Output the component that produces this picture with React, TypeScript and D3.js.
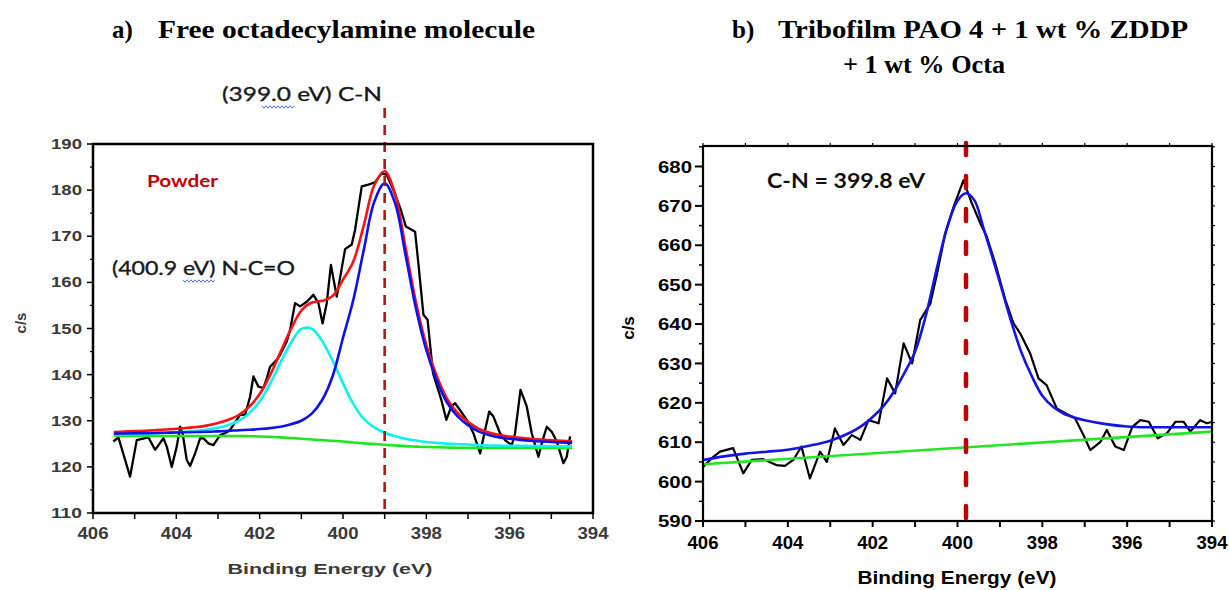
import React from 'react';
import * as d3 from 'd3';

// ---------- Panel a) data ----------
const leftRawEnergy = [405.51,405.39,405.11,404.95,404.67,404.51,404.31,404.23,404.11,403.99,403.91,403.85,403.75,403.67,403.55,403.43,403.35,403.23,403.11,402.95,402.83,402.71,402.55,402.47,402.35,402.23,402.15,402.03,401.91,401.83,401.75,401.59,401.51,401.35,401.27,401.15,401.03,400.87,400.71,400.59,400.49,400.39,400.29,400.15,399.95,399.79,399.71,399.55,399.39,399.23,399.07,398.95,398.79,398.61,398.49,398.27,398.19,398.07,397.97,397.84,397.64,397.52,397.4,397.31,397.19,397.03,396.87,396.71,396.59,396.49,396.39,396.23,396.11,395.95,395.87,395.74,395.59,395.47,395.31,395.23,395.11,394.99,394.87,394.71,394.63,394.55];
const leftRawCounts = [125.5,126.4,117.9,125.8,126.4,123.7,126.2,124.4,120.0,124.4,128.7,127.3,121.5,120.2,122.9,126.2,126.2,125.1,124.7,126.9,127.3,128.0,130.2,131.3,131.3,135.2,139.6,137.4,137.1,139.2,141.7,143.2,144.3,147.2,149.7,155.5,154.8,155.8,157.3,155.5,151.1,155.5,163.8,156.9,167.2,168.2,171.4,180.8,181.2,181.7,183.7,183.3,180.0,175.7,172.1,171.0,164.0,153.0,151.9,140.3,134.5,130.2,133.1,133.8,132.3,130.2,127.3,122.9,128.0,132.0,130.9,127.3,125.8,124.7,127.3,136.7,133.1,127.3,122.2,125.1,128.7,127.6,125.5,120.8,122.2,126.6];

const leftFitEnergy = [405.5,405.25,405.0,404.75,404.5,404.25,404.0,403.75,403.5,403.25,403.0,402.75,402.5,402.25,402.0,401.75,401.5,401.25,401.0,400.75,400.5,400.25,400.0,399.75,399.5,399.25,399.0,398.75,398.5,398.25,398.0,397.75,397.5,397.25,397.0,396.75,396.5,396.25,396.0,395.75,395.5,395.25,395.0,394.75,394.5];
const leftBackground = [126.7,126.7,126.7,126.7,126.7,126.7,126.7,126.7,126.7,126.7,126.7,126.7,126.7,126.65,126.6,126.5,126.4,126.25,126.1,125.95,125.8,125.65,125.5,125.3,125.1,124.95,124.8,124.65,124.5,124.4,124.3,124.25,124.2,124.15,124.15,124.1,124.1,124.1,124.1,124.1,124.1,124.1,124.1,124.1,124.1];
const leftNCO = [127.05,127.1,127.15,127.2,127.3,127.4,127.5,127.65,127.8,128.1,128.5,129.1,130.0,131.65,134.2,138.0,142.6,146.85,149.9,149.95,147.3,143.05,138.1,133.6,130.4,128.55,127.4,126.65,126.1,125.7,125.4,125.2,125.05,124.9,124.85,124.7,124.65,124.6,124.58,124.55,124.52,124.5,124.48,124.46,124.44];
const leftCN = [127.2,127.25,127.3,127.32,127.35,127.4,127.45,127.5,127.55,127.6,127.7,127.8,127.95,128.05,128.2,128.4,128.7,129.25,130.0,131.55,134.5,139.65,148.0,156.3,167.1,177.45,181.5,177.15,166.0,154.4,145.3,138.75,133.9,130.95,129.05,127.7,126.9,126.4,126.1,125.85,125.65,125.5,125.4,125.3,125.2];
const leftEnvelope = [127.55,127.65,127.75,127.82,127.95,128.1,128.25,128.45,128.65,129.0,129.5,130.2,131.25,133.05,135.8,139.9,144.9,149.85,153.9,155.65,156.0,157.05,160.6,164.6,172.4,181.05,184.1,179.15,167.6,155.7,146.4,139.7,134.75,131.7,129.75,128.3,127.45,126.9,126.58,126.3,126.07,125.9,125.78,125.66,125.54];
const leftPeak = 399.0;
const leftXTicks = [406,405,404,403,402,401,400,399,398,397,396,395,394];
const leftXLabels = [406,404,402,400,398,396,394];
const leftYMajor = [110,120,130,140,150,160,170,180,190];
const leftYMinor = [115,125,135,145,155,165,175,185];

// ---------- Panel b) data ----------
const rightRawEnergy = [405.99,405.8,405.6,405.29,405.05,404.85,404.58,404.27,404.07,403.87,403.68,403.48,403.24,403.08,402.89,402.69,402.49,402.29,402.1,401.86,401.66,401.47,401.27,401.07,400.88,400.64,400.48,400.29,400.09,399.86,399.66,399.46,399.31,399.11,398.87,398.68,398.52,398.29,398.09,397.9,397.66,397.38,397.23,397.03,396.87,396.63,396.48,396.28,396.08,395.88,395.69,395.49,395.28,395.06,394.86,394.67,394.51,394.28,394.12,393.99];
const rightRawCounts = [603.8,605.9,607.6,608.5,602.1,605.5,605.7,604.2,604.0,605.5,608.9,600.8,607.6,605.0,613.5,609.3,611.8,610.6,615.6,614.8,626.2,622.4,635.1,630.0,641.0,645.2,652.9,663.0,669.8,676.5,670.6,665.5,662.2,655.4,646.1,640.2,637.6,632.6,626.2,624.5,618.6,616.9,616.1,611.8,608.0,610.1,613.1,608.9,608.0,613.9,615.6,615.2,611.0,612.3,615.2,615.2,612.7,615.6,614.8,615.2];
const rightFitEnergy = [406.0,405.5,405.0,404.5,404.0,403.5,403.0,402.5,402.25,402.0,401.75,401.5,401.25,401.0,400.75,400.5,400.25,400.0,399.8,399.6,399.4,399.2,399.0,398.75,398.5,398.25,398.0,397.75,397.5,397.25,397.0,396.5,396.0,395.5,395.0,394.5,394.0];
const rightFit = [605.5,606.4,607.1,607.6,608.1,609.1,610.4,612.6,614.2,616.4,619.1,622.8,627.6,633.0,642.0,653.6,664.3,671.3,673.2,671.4,664.8,657.8,650.5,641.2,633.0,626.8,621.8,619.0,617.3,616.3,615.6,614.6,614.0,613.8,613.8,613.8,613.8];
const rightBackgroundEnergy = [406.0, 394.0];
const rightBackground = [604.4, 612.7];
const rightPeak = 399.8;
const rightXTicks = [406,405,404,403,402,401,400,399,398,397,396,395,394];
const rightXLabels = [406,404,402,400,398,396,394];
const rightYMajor = [590,600,610,620,630,640,650,660,670,680];
const rightYMinor = [595,605,615,625,635,645,655,665,675,685];
const rightYSide = [590,595,600,605,610,615,620,625,630,635,640,645,650,655,660,665,670,675,680,685];

// ---------- Layout ----------
const L = { x0: 93, x1: 593, y0: 144, y1: 513 };
const R = { x0: 703, x1: 1212, y0: 146, y1: 521 };
const xL = d3.scaleLinear().domain([406, 394]).range([L.x0, L.x1]);
const yL = d3.scaleLinear().domain([110, 190]).range([L.y1, L.y0]);
const xR = d3.scaleLinear().domain([406, 394]).range([R.x0, R.x1]);
const yR = d3.scaleLinear().domain([590, 685.2]).range([R.y1, R.y0]);

const SANS = 'Liberation Sans, Arial, sans-serif';
const SERIF = 'Liberation Serif, Times New Roman, serif';
const CAL = 'Lato, Carlito, Calibri, sans-serif';
const SMOOTH = d3.curveCatmullRom.alpha(0.5);

function path(xs: number[], ys: number[], xs_: any, ys_: any, curve: any) {
  return d3.line<number>().x((_, i) => xs_(xs[i])).y((d) => ys_(d)).curve(curve)(ys) || '';
}

function Wavy({ x0, x1, y }: { x0: number; x1: number; y: number }) {
  const n = Math.round((x1 - x0) / 2);
  const pts: [number, number][] = d3.range(n + 1).map((i) => [x0 + (i * (x1 - x0)) / n, y + (i % 2 ? 1.2 : -1.2)]);
  return <path d={d3.line()(pts) || ''} fill="none" stroke="#4a6cf0" strokeWidth={1} />;
}

export default function App() {
  const grey = '#3a3a3a';
  return (
    <svg width={1229} height={590} style={{ position: 'absolute', left: 0, top: 0, background: '#fff' }}>
      <rect x={0} y={0} width={1229} height={590} fill="#fff" />
      {/* Titles */}
      <text x={112} y={38} fontFamily={SERIF} fontWeight="bold" fontSize={25}>a)</text>
      <text x={158} y={38} fontFamily={SERIF} fontWeight="bold" fontSize={25} textLength={377} lengthAdjust="spacingAndGlyphs">Free octadecylamine molecule</text>
      <text x={732} y={38} fontFamily={SERIF} fontWeight="bold" fontSize={25}>b)</text>
      <text x={778} y={38} fontFamily={SERIF} fontWeight="bold" fontSize={25} textLength={410} lengthAdjust="spacingAndGlyphs">Tribofilm PAO 4 + 1 wt % ZDDP</text>
      <text x={843} y={73} fontFamily={SERIF} fontWeight="bold" fontSize={25} textLength={162} lengthAdjust="spacingAndGlyphs">+ 1 wt % Octa</text>

      {/* ===== Panel a ===== */}
      <text x={222} y={101} fontFamily={CAL} fontSize={19} fill="#1a1a1a" stroke="#1a1a1a" strokeWidth={0.35} textLength={160} lengthAdjust="spacingAndGlyphs">(399.0 eV) C-N</text>
      <Wavy x0={262} x1={294} y={107} />
      {leftYMajor.map((v) => (
        <g key={'lym' + v}>
          <line x1={L.x0 - 6} x2={L.x0} y1={yL(v)} y2={yL(v)} stroke="#000" strokeWidth={1.5} />
          <text x={82} y={yL(v)} dy="0.36em" textAnchor="end" fontFamily={SANS} fontWeight="bold" fontSize={14} fill={grey} textLength={31} lengthAdjust="spacingAndGlyphs">{v}</text>
        </g>
      ))}
      {leftYMinor.map((v) => (
        <line key={'lyn' + v} x1={L.x0 - 3} x2={L.x0} y1={yL(v)} y2={yL(v)} stroke="#000" strokeWidth={1.2} />
      ))}
      {leftXTicks.map((v) => (
        <line key={'lx' + v} x1={xL(v)} x2={xL(v)} y1={L.y1} y2={L.y1 + 6} stroke="#000" strokeWidth={1.5} />
      ))}
      {leftXLabels.map((v) => (
        <text key={'lxl' + v} x={xL(v)} y={539} textAnchor="middle" fontFamily={SANS} fontWeight="bold" fontSize={17} fill={grey} textLength={31} lengthAdjust="spacingAndGlyphs">{v}</text>
      ))}
      <text x={330} y={574} textAnchor="middle" fontFamily={SANS} fontWeight="bold" fontSize={14} fill={grey} textLength={205} lengthAdjust="spacingAndGlyphs">Binding Energy (eV)</text>
      <text transform="translate(26,323) rotate(-90)" textAnchor="middle" fontFamily={SANS} fontWeight="bold" fontSize={15} fill={grey}>c/s</text>

      <path d={path(leftRawEnergy, leftRawCounts, xL, yL, d3.curveLinear)} fill="none" stroke="#000" strokeWidth={2.3} strokeLinejoin="round" />
      <path d={path(leftFitEnergy, leftBackground, xL, yL, d3.curveMonotoneX)} fill="none" stroke="#1ee61e" strokeWidth={2.6} />
      <path d={path(leftFitEnergy, leftNCO, xL, yL, SMOOTH)} fill="none" stroke="#10f0f0" strokeWidth={2.6} />
      <path d={path(leftFitEnergy, leftEnvelope, xL, yL, SMOOTH)} fill="none" stroke="#ff1010" strokeWidth={2.6} />
      <path d={path(leftFitEnergy, leftCN, xL, yL, SMOOTH)} fill="none" stroke="#1010ee" strokeWidth={2.6} />
      <line x1={xL(leftPeak)} x2={xL(leftPeak)} y1={108} y2={L.y1} stroke="#b81414" strokeWidth={2.6} strokeDasharray="10 7" />
      <rect x={L.x0} y={L.y0} width={L.x1 - L.x0} height={L.y1 - L.y0} fill="none" stroke="#000" strokeWidth={2.5} />
      <text x={147} y={187} fontFamily={CAL} fontWeight="bold" fontSize={17} fill="#c00000" textLength={71} lengthAdjust="spacingAndGlyphs">Powder</text>
      <text x={112} y={275} fontFamily={CAL} fontSize={19} fill="#1a1a1a" stroke="#1a1a1a" strokeWidth={0.35} textLength={183} lengthAdjust="spacingAndGlyphs">(400.9 eV) N-C=O</text>
      <Wavy x0={183} x1={215} y={281} />

      {/* ===== Panel b ===== */}
      {rightYMajor.map((v) => (
        <g key={'rym' + v}>
          <line x1={R.x0 - 8} x2={R.x0} y1={yR(v)} y2={yR(v)} stroke="#000" strokeWidth={2} />
          <text x={692} y={yR(v)} dy="0.36em" textAnchor="end" fontFamily={SANS} fontWeight="bold" fontSize={17} fill="#000" textLength={34} lengthAdjust="spacingAndGlyphs">{v}</text>
        </g>
      ))}
      {rightYMinor.map((v) => (
        <line key={'ryn' + v} x1={R.x0 - 4} x2={R.x0} y1={yR(v)} y2={yR(v)} stroke="#000" strokeWidth={1.5} />
      ))}
      {rightYSide.map((v) => (
        <line key={'rys' + v} x1={R.x1} x2={R.x1 + 3} y1={yR(v)} y2={yR(v)} stroke="#000" strokeWidth={1.2} />
      ))}
      {rightXTicks.map((v) => (
        <g key={'rx' + v}>
          <line x1={xR(v)} x2={xR(v)} y1={R.y1} y2={R.y1 + 6} stroke="#000" strokeWidth={2} />
          <line x1={xR(v)} x2={xR(v)} y1={R.y0} y2={R.y0 - 3} stroke="#000" strokeWidth={1.2} />
        </g>
      ))}
      {rightXLabels.map((v) => (
        <text key={'rxl' + v} x={xR(v)} y={549} textAnchor="middle" fontFamily={SANS} fontWeight="bold" fontSize={19} fill="#000" textLength={31} lengthAdjust="spacingAndGlyphs">{v}</text>
      ))}
      <text x={957} y={584} textAnchor="middle" fontFamily={SANS} fontWeight="bold" fontSize={19} fill="#000" textLength={199} lengthAdjust="spacingAndGlyphs">Binding Energy (eV)</text>
      <text transform="translate(634,328) rotate(-90)" textAnchor="middle" fontFamily={SANS} fontWeight="bold" fontSize={17} fill="#000">c/s</text>

      <path d={path(rightRawEnergy, rightRawCounts, xR, yR, d3.curveLinear)} fill="none" stroke="#000" strokeWidth={2.2} strokeLinejoin="round" />
      <path d={path(rightBackgroundEnergy, rightBackground, xR, yR, d3.curveLinear)} fill="none" stroke="#22e622" strokeWidth={2.6} />
      <path d={path(rightFitEnergy, rightFit, xR, yR, SMOOTH)} fill="none" stroke="#1414e6" strokeWidth={2.6} />
      <line x1={xR(rightPeak)} x2={xR(rightPeak)} y1={143} y2={R.y1} stroke="#c00000" strokeWidth={4.5} strokeDasharray="12 21" strokeLinecap="round" />
      <rect x={R.x0} y={R.y0} width={R.x1 - R.x0} height={R.y1 - R.y0} fill="none" stroke="#000" strokeWidth={2.2} />
      <text x={767} y={188} fontFamily={CAL} fontWeight="bold" fontSize={20} fill="#111" textLength={158} lengthAdjust="spacingAndGlyphs">C-N = 399.8 eV</text>
    </svg>
  );
}
